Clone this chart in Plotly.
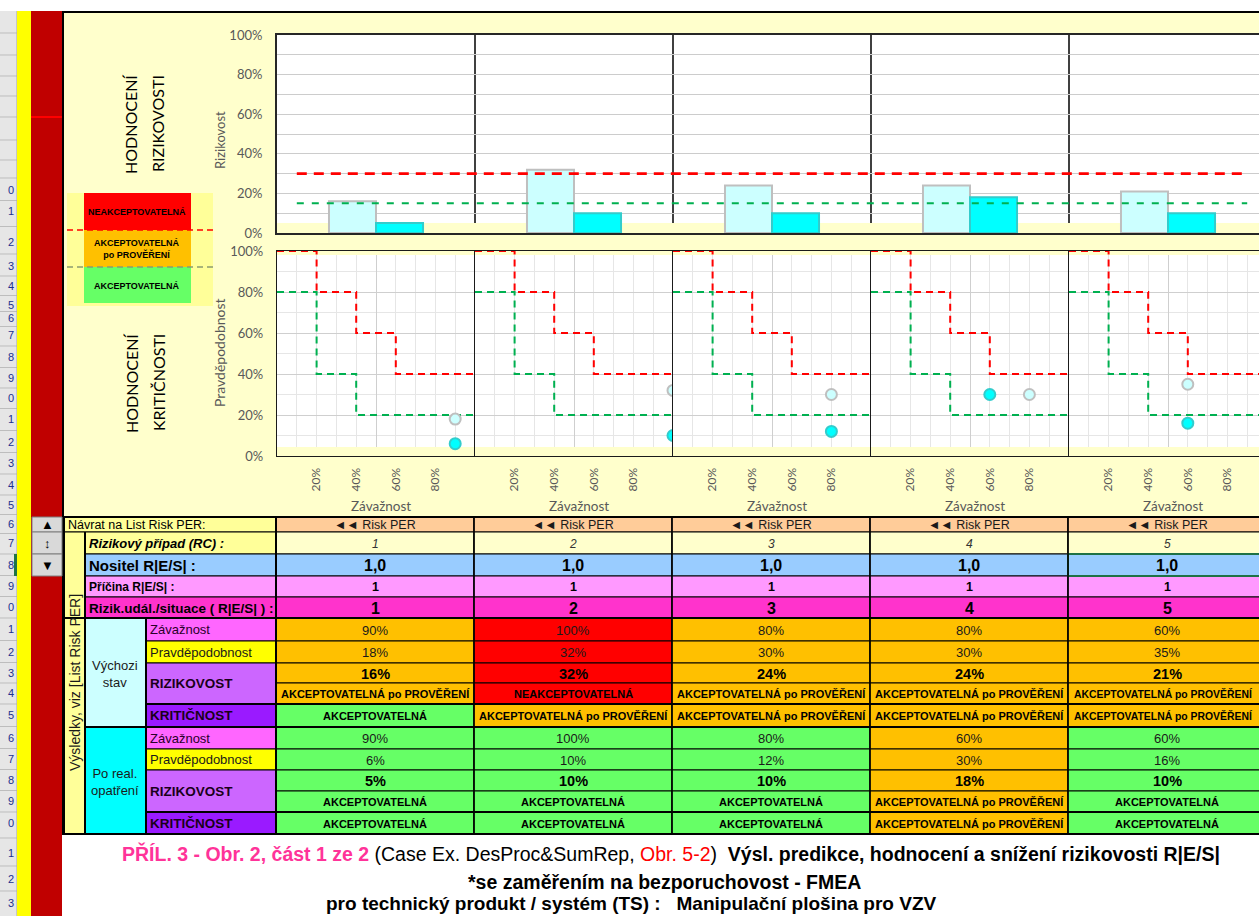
import plotly.graph_objects as go

W, H = 1259, 916


def X(p):
    return p / W


def Y(p):
    return 1 - p / H


# ------------------------------------------------------------------ data
cases = [1, 2, 3, 4, 5]
severity_initial = [90, 100, 80, 80, 60]
probability_initial = [18, 32, 30, 30, 35]
risk_initial = [16, 32, 24, 24, 21]
severity_after = [90, 100, 80, 60, 60]
probability_after = [6, 10, 12, 30, 16]
risk_after = [5, 10, 10, 18, 10]
risk_class_initial = ["PO", "NE", "PO", "PO", "PO"]
crit_class_initial = ["AK", "PO", "PO", "PO", "PO"]
risk_class_after = ["AK", "AK", "AK", "PO", "AK"]
crit_class_after = ["AK", "AK", "AK", "PO", "AK"]
carrier = ["1,0", "1,0", "1,0", "1,0", "1,0"]
cause = ["1", "1", "1", "1", "1"]
event = ["1", "2", "3", "4", "5"]

risk_limit_red = 30
risk_limit_green = 15
risk_limit_span = [-0.4, 4.4]

crit_red_sev = [0, 20, 20, 40, 40, 60, 60, 100]
crit_red_prob = [100, 100, 80, 80, 60, 60, 40, 40]
crit_green_sev = [0, 20, 20, 40, 40, 100]
crit_green_prob = [80, 80, 40, 40, 20, 20]

pct_ticks = [0, 20, 40, 60, 80, 100]
pct_labels = ["0%", "20%", "40%", "60%", "80%", "100%"]
sev_ticks = [20, 40, 60, 80]
sev_labels = ["20%", "40%", "60%", "80%"]
risk_grid = [10, 20, 30, 40, 50, 60, 70, 80, 90]
group_dividers = [0.5, 1.5, 2.5, 3.5]

class_text = {"NE": "NEAKCEPTOVATELNÁ", "PO": "AKCEPTOVATELNÁ po PROVĚŘENÍ", "AK": "AKCEPTOVATELNÁ"}
class_color = {"NE": "#FF0000", "PO": "#FFC000", "AK": "#66FF66"}

rowhdr_digits = ["0", "1", "2", "3", "4", "5", "6", "7", "8", "9",
                 "0", "1", "2", "3", "4", "5", "6", "7", "8", "9",
                 "0", "1", "2", "3", "4", "5", "6", "7", "8", "9",
                 "0", "1", "2", "3"]
rowhdr_y = [190, 211, 242, 266, 286, 305, 318, 335, 357, 378,
            398, 419, 442, 463, 485, 505, 524, 543, 565, 586,
            607, 629, 652, 673, 693, 715, 738, 759, 780, 801,
            823, 853, 879, 903]
rowhdr_lines_top = [33, 55, 76, 96, 117, 140, 160, 178]

TF = "Liberation Sans, Arial, sans-serif"
CF = "Lato, Noto Sans, sans-serif"

# ------------------------------------------------------------------ geometry
PL, GW = 277, 198
TOP0, TOP100, TOPW = 233, 35, 223
CR0, CR100 = 456, 251
CRW0, CRW1 = 447, 255
top_xrange = [-0.5, -0.5 + (W - PL) / GW]
top_ppu = (TOP0 - TOP100) / 100
cr_ppu = (CR0 - CR100) / 100

fig = go.Figure()
layout = dict(width=W, height=H, margin=dict(l=0, r=0, t=0, b=0, pad=0, autoexpand=False),
              template="none", autosize=False,
              paper_bgcolor="white", plot_bgcolor="rgba(0,0,0,0)",
              showlegend=False, barmode="group", bargap=0.525, bargroupgap=0,
              hovermode=False)

noaxis = dict(showticklabels=False, ticks="", zeroline=False, showline=False, automargin=False)

# grid-only subplot for the risk bar chart
layout["xaxis"] = dict(domain=[X(PL), 1], range=top_xrange, anchor="y", tickvals=group_dividers,
                       showgrid=True, gridcolor="#404040", gridwidth=1.5, **noaxis)
layout["yaxis"] = dict(domain=[Y(TOPW), Y(TOP100)], range=[(TOP0 - TOPW) / top_ppu, 100], anchor="x",
                       tickvals=risk_grid, showgrid=True, gridcolor="#CCCCCC", gridwidth=1.2, **noaxis)
fig.add_trace(go.Scatter(x=[None], y=[None], mode="lines", xaxis="x", yaxis="y", hoverinfo="skip"))

# grid-only subplots for criticality panels
for i in range(5):
    x0 = PL + GW * i
    x1 = min(x0 + GW, W)
    xr = [0, 100 * (x1 - x0) / GW]
    n = 2 + i
    layout[f"xaxis{n}"] = dict(domain=[X(x0), X(x1)], range=xr, anchor=f"y{n}", tickmode="linear",
                               tick0=0, dtick=50, showgrid=True, gridcolor="#CFCFCF",
                               minor=dict(tick0=0, dtick=10, showgrid=True, gridcolor="#E6E6E6"), **noaxis)
    layout[f"yaxis{n}"] = dict(domain=[Y(CRW0), Y(CRW1)],
                               range=[(CR0 - CRW0) / cr_ppu, (CR0 - CRW1) / cr_ppu], anchor=f"x{n}",
                               tickmode="linear", tick0=0, dtick=20, showgrid=True, gridcolor="#CFCFCF",
                               minor=dict(tick0=0, dtick=10, showgrid=True, gridcolor="#E6E6E6"), **noaxis)
    fig.add_trace(go.Scatter(x=[None], y=[None], mode="lines", xaxis=f"x{n}", yaxis=f"y{n}",
                             hoverinfo="skip"))

# risk bar chart (data)
layout["xaxis7"] = dict(domain=[X(PL), 1], range=top_xrange, anchor="y7", showgrid=False, zeroline=False,
                        showticklabels=False, ticks="", showline=True, mirror=True, automargin=False,
                        linecolor="#262626", linewidth=2)
layout["yaxis7"] = dict(domain=[Y(TOP0), Y(TOP100)], range=[0, 100], anchor="x7", tickvals=pct_ticks,
                        ticktext=pct_labels, tickfont=dict(family=CF, size=13, color="#595959"),
                        showgrid=False, zeroline=False, ticks="", showline=True, automargin=False,
                        linecolor="#262626", linewidth=2, ticklabelstandoff=10)

idx = list(range(len(cases)))
fig.add_trace(go.Bar(x=idx, y=risk_initial, xaxis="x7", yaxis="y7",
                     marker=dict(color="#CCFFFF", line=dict(color="#BFBFBF", width=2))))
fig.add_trace(go.Bar(x=idx, y=risk_after, xaxis="x7", yaxis="y7",
                     marker=dict(color="#00FFFF", line=dict(color="#33CCCC", width=2))))
fig.add_trace(go.Scatter(x=risk_limit_span, y=[risk_limit_red] * 2, mode="lines", xaxis="x7", yaxis="y7",
                         line=dict(color="#FF0000", width=2.6, dash="10px,7px")))
fig.add_trace(go.Scatter(x=risk_limit_span, y=[risk_limit_green] * 2, mode="lines", xaxis="x7", yaxis="y7",
                         line=dict(color="#00B050", width=2, dash="7px,8px")))

# criticality panels (data)
for i in range(5):
    x0 = PL + GW * i
    x1 = min(x0 + GW, W)
    xr = [0, 100 * (x1 - x0) / GW]
    n = 8 + i
    layout[f"xaxis{n}"] = dict(domain=[X(x0), X(x1)], range=xr, anchor=f"y{n}",
                               tickvals=sev_ticks, ticktext=sev_labels, tickangle=-90,
                               tickfont=dict(family=CF, size=12, color="#595959"), ticklabelstandoff=6,
                               showgrid=False, zeroline=False, ticks="", showline=True, mirror=True,
                               automargin=False, linecolor="#1A1A1A", linewidth=1.2)
    ya = dict(domain=[Y(CR0), Y(CR100)], range=[0, 100], anchor=f"x{n}", showgrid=False, zeroline=False,
              ticks="", showline=True, linecolor="#1A1A1A", linewidth=1.4, automargin=False)
    if i == 0:
        ya.update(tickvals=pct_ticks, ticktext=pct_labels, tickfont=dict(family=CF, size=13, color="#595959"),
                  ticklabelstandoff=10)
    else:
        ya.update(showticklabels=False)
    layout[f"yaxis{n}"] = ya
    fig.add_trace(go.Scatter(x=crit_red_sev, y=crit_red_prob, mode="lines", xaxis=f"x{n}", yaxis=f"y{n}",
                             line=dict(color="#FF0000", width=2, dash="7px,5px")))
    fig.add_trace(go.Scatter(x=crit_green_sev, y=crit_green_prob, mode="lines", xaxis=f"x{n}", yaxis=f"y{n}",
                             line=dict(color="#00B050", width=2, dash="7px,5px")))
    fig.add_trace(go.Scatter(x=[severity_initial[i]], y=[probability_initial[i]], mode="markers",
                             xaxis=f"x{n}", yaxis=f"y{n}",
                             marker=dict(size=11, color="#CCFFFF", line=dict(color="#BFBFBF", width=2))))
    fig.add_trace(go.Scatter(x=[severity_after[i]], y=[probability_after[i]], mode="markers",
                             xaxis=f"x{n}", yaxis=f"y{n}",
                             marker=dict(size=11, color="#00FFFF", line=dict(color="#33CCCC", width=2))))

# ------------------------------------------------------------------ shapes & texts
shapes = []
ann = []


def rect(x0, y0, x1, y1, fill=None, line=None, lw=1, dash=None):
    ln = dict(color=line if line else "rgba(0,0,0,0)", width=lw if line else 0)
    if dash:
        ln["dash"] = dash
    shapes.append(dict(type="rect", xref="paper", yref="paper", x0=X(x0), x1=X(x1), y0=Y(y1), y1=Y(y0),
                       fillcolor=fill if fill else "rgba(0,0,0,0)", line=ln, layer="below"))


def seg(x0, y0, x1, y1, color="black", lw=1, dash=None):
    ln = dict(color=color, width=lw)
    if dash:
        ln["dash"] = dash
    shapes.append(dict(type="line", xref="paper", yref="paper", x0=X(x0), x1=X(x1), y0=Y(y0), y1=Y(y1),
                       line=ln, layer="below"))


def text(xp, yp, s, size=12, color="black", family=TF, xanchor="center", angle=0):
    ann.append(dict(x=X(xp), y=Y(yp), xref="paper", yref="paper", text=s, showarrow=False,
                    font=dict(size=size, color=color, family=family), xanchor=xanchor, yanchor="middle",
                    textangle=angle, align="center"))


# excel frame
rect(0, 11, 17, 916, fill="#E6E6E6")
for yy in rowhdr_lines_top:
    seg(0, yy, 17, yy, color="#BDBDBD", lw=1)
for a, b in zip(rowhdr_y[:-1], rowhdr_y[1:]):
    m = (a + b) / 2
    seg(0, m, 17, m, color="#BDBDBD", lw=1)
seg(17, 11, 17, 916, color="#A6A6A6", lw=1)
rect(14, 554, 17.5, 576, fill="#217346")
rect(17, 11, 31, 916, fill="#FFFF00")
rect(31, 11, 62, 916, fill="#C00000")
seg(31, 117, 62, 117, color="#FF0000", lw=2)
rect(64, 12, W, 516, fill="#FFFFCC")
rect(64, 835, W, 916, fill="white")
seg(63, 11, 63, 835, color="black", lw=2)
seg(62, 12, W, 12, color="black", lw=2)

for d, yy in zip(rowhdr_digits, rowhdr_y):
    text(11, yy, d, size=11, color="#20308F", xanchor="center")

# legend box
rect(67, 193, 213, 306, fill="#FFFF99")
rect(84, 193, 191, 230, fill="#FF0000")
rect(84, 230, 191, 267, fill="#FFC000")
rect(84, 267, 191, 303, fill="#66FF66")
seg(67, 230, 213, 230, color="#FF0000", lw=1.5, dash="6px,4px")
seg(67, 267, 213, 267, color="#8C9C70", lw=1.5, dash="6px,4px")
text(137, 212, "<b>NEAKCEPTOVATELNÁ</b>", size=9)
text(137, 249, "<b>AKCEPTOVATELNÁ<br>po PROVĚŘENÍ</b>", size=9)
text(137, 286, "<b>AKCEPTOVATELNÁ</b>", size=9)

# white plot areas
rect(PL, TOP100, W, TOPW, fill="white")
for i in range(5):
    x0 = PL + GW * i
    rect(x0, CRW1, min(x0 + GW, W), CRW0, fill="white")

# chart titles
text(131, 124, "HODNOCENÍ", size=16, family=CF, angle=-90)
text(158, 124, "RIZIKOVOSTI", size=16, family=CF, angle=-90)
text(131, 383, "HODNOCENÍ", size=16, family=CF, angle=-90)
text(158, 383, "KRITIČNOSTI", size=16, family=CF, angle=-90)
text(220, 140, "Rizikovost", size=13, family=CF, color="#595959", angle=-90)
text(219, 353, "Pravděpodobnost", size=14, family=CF, color="#595959", angle=-90)
for i in range(5):
    text(PL + GW * i + GW / 2 + 5, 506, "Závažnost", size=13.5, family=CF, color="#595959")

# ------------------------------------------------------------------ table
ROWS = [517, 532, 554, 576, 597, 618, 641, 663, 683, 704, 727, 749, 770, 791, 812, 834]
COLS = [276 + GW * i for i in range(6)]
XR = W  # right edge of visible area


def pct(v):
    return f"{v}%"


data_rows = [
    (["◄◄ Risk PER"] * 5, ["#FFCC99"] * 5, 12.5, "", "#1A1A1A"),
    ([str(c) for c in cases], ["#FFFFCC"] * 5, 12, "i", "#333333"),
    (carrier, ["#99CCFF"] * 5, 16, "b", "black"),
    (cause, ["#FF99FF"] * 5, 12.5, "b", "black"),
    (event, ["#FF33CC"] * 5, 16, "b", "black"),
    ([pct(v) for v in severity_initial], [class_color[c] for c in risk_class_initial], 13, "", "#1A1A1A"),
    ([pct(v) for v in probability_initial], [class_color[c] for c in risk_class_initial], 13, "", "#1A1A1A"),
    ([pct(v) for v in risk_initial], [class_color[c] for c in risk_class_initial], 14.5, "b", "black"),
    ([class_text[c] for c in risk_class_initial], [class_color[c] for c in risk_class_initial], 11, "b", "black"),
    ([class_text[c] for c in crit_class_initial], [class_color[c] for c in crit_class_initial], 11, "b", "black"),
    ([pct(v) for v in severity_after], [class_color[c] for c in risk_class_after], 13, "", "#1A1A1A"),
    ([pct(v) for v in probability_after], [class_color[c] for c in risk_class_after], 13, "", "#1A1A1A"),
    ([pct(v) for v in risk_after], [class_color[c] for c in risk_class_after], 14.5, "b", "black"),
    ([class_text[c] for c in risk_class_after], [class_color[c] for c in risk_class_after], 11, "b", "black"),
    ([class_text[c] for c in crit_class_after], [class_color[c] for c in crit_class_after], 11, "b", "black"),
]

for r, (vals, fills, size, style, col) in enumerate(data_rows):
    y0, y1 = ROWS[r], ROWS[r + 1]
    for i, (v, f) in enumerate(zip(vals, fills)):
        x0, x1 = COLS[i], COLS[i + 1]
        rect(x0, y0, min(x1, XR + 1), y1, fill=f, line="black", lw=1)
        s = v
        if style == "b":
            s = f"<b>{v}</b>"
        elif style == "i":
            s = f"<i>{v}</i>"
        cx = (x0 + x1) / 2
        sz = size
        if x1 > XR and len(v) > 20:
            # keep the long category text inside the visible part of the last column
            cx = (x0 + XR) / 2
            sz = 10.4
        text(cx, (y0 + y1) / 2 + 0.5, s, size=sz, color=col)

# selected cell
rect(COLS[4], ROWS[2], XR + 1, ROWS[3], line="#1E7145", lw=2)

# navigation buttons
for r, sym in enumerate(["▲", "↕", "▼"]):
    rect(32, ROWS[r], 62, ROWS[r + 1], fill="#D9D9D9", line="#7F7F7F", lw=1)
    text(47, (ROWS[r] + ROWS[r + 1]) / 2, sym, size=13)

# label cells
rect(64, ROWS[0], 276, ROWS[1], fill="#FFFF99", line="black")
text(66, (ROWS[0] + ROWS[1]) / 2, "Návrat na List Risk PER:", size=12.5, xanchor="left")
rect(64, ROWS[1], 85, ROWS[15], fill="#FFFF99", line="black")
text(75, (ROWS[1] + ROWS[15]) / 2, "Výsledky, viz [List Risk PER]", size=14, angle=-90, color="#1A1A1A")

labels_top = [("<b><i>Rizikový případ (RC) :</i></b>", "#FFFF99", 13),
              ("<b>Nositel R|E/S| :</b>", "#99CCFF", 15),
              ("<b>Příčina R|E/S| :</b>", "#FF99FF", 12),
              ("<b>Rizik.udál./situace ( R|E/S| ) :</b>", "#FF33CC", 13.5)]
for k, (s, f, sz) in enumerate(labels_top):
    r = k + 1
    rect(85, ROWS[r], 276, ROWS[r + 1], fill=f, line="black")
    text(87, (ROWS[r] + ROWS[r + 1]) / 2 + 0.5, s, size=sz, xanchor="left")

rect(85, ROWS[5], 146, ROWS[10], fill="#CCFFFF", line="black")
text(115, 674, "Výchozi<br>stav", size=13, color="#1A1A1A")
rect(85, ROWS[10], 146, ROWS[15], fill="#00FFFF", line="black")
text(115, 782, "Po real.<br>opatření", size=13, color="#1A1A1A")

for base in (5, 10):
    rect(146, ROWS[base], 276, ROWS[base + 1], fill="#FF66FF", line="black")
    text(148, (ROWS[base] + ROWS[base + 1]) / 2, "Závažnost", size=13, xanchor="left", color="#2A002A")
    rect(146, ROWS[base + 1], 276, ROWS[base + 2], fill="#FFFF00", line="black")
    text(148, (ROWS[base + 1] + ROWS[base + 2]) / 2, "Pravděpodobnost", size=13, xanchor="left",
         color="#1A1A1A")
    rect(146, ROWS[base + 2], 276, ROWS[base + 4], fill="#CC66FF", line="black")
    text(148, (ROWS[base + 2] + ROWS[base + 4]) / 2, "<b>RIZIKOVOST</b>", size=13.5, xanchor="left",
         color="#1A001A")
    rect(146, ROWS[base + 4], 276, ROWS[base + 5], fill="#9A1AFF", line="black")
    text(148, (ROWS[base + 4] + ROWS[base + 5]) / 2, "<b>KRITIČNOST</b>", size=13.5, xanchor="left",
         color="#1A001A")

# heavier table rules
for yy, xa in [(ROWS[0], 64), (ROWS[5], 64), (ROWS[9], 146), (ROWS[10], 85), (ROWS[14], 146), (ROWS[15], 64)]:
    seg(xa, yy, XR, yy, lw=2)
for xx, ya in [(64, ROWS[0]), (276, ROWS[0]), (85, ROWS[1]), (146, ROWS[5])]:
    seg(xx, ya, xx, ROWS[15], lw=2)
for xx in COLS[1:5]:
    seg(xx, ROWS[0], xx, ROWS[15], lw=1.5)

# ------------------------------------------------------------------ caption
text(671, 853,
     "<b><span style='color:#FF3399'>PŘÍL. 3 - Obr. 2, část 1 ze 2</span></b>"
     " (Case Ex. DesProc&amp;SumRep, <span style='color:#FF0000'>Obr. 5-2</span>)&nbsp;&nbsp;"
     "<b>Výsl. predikce, hodnocení a snížení rizikovosti R|E/S|</b>", size=19.5)
text(664, 882, "<b>*se zaměřením na bezporuchovost - FMEA</b>", size=19.5)
text(631, 903, "<b>pro technický produkt / systém (TS) :&nbsp;&nbsp; Manipulační plošina pro VZV</b>",
     size=19)

layout["shapes"] = shapes
layout["annotations"] = ann
fig.update_layout(**layout)
fig.write_html("out.html")
